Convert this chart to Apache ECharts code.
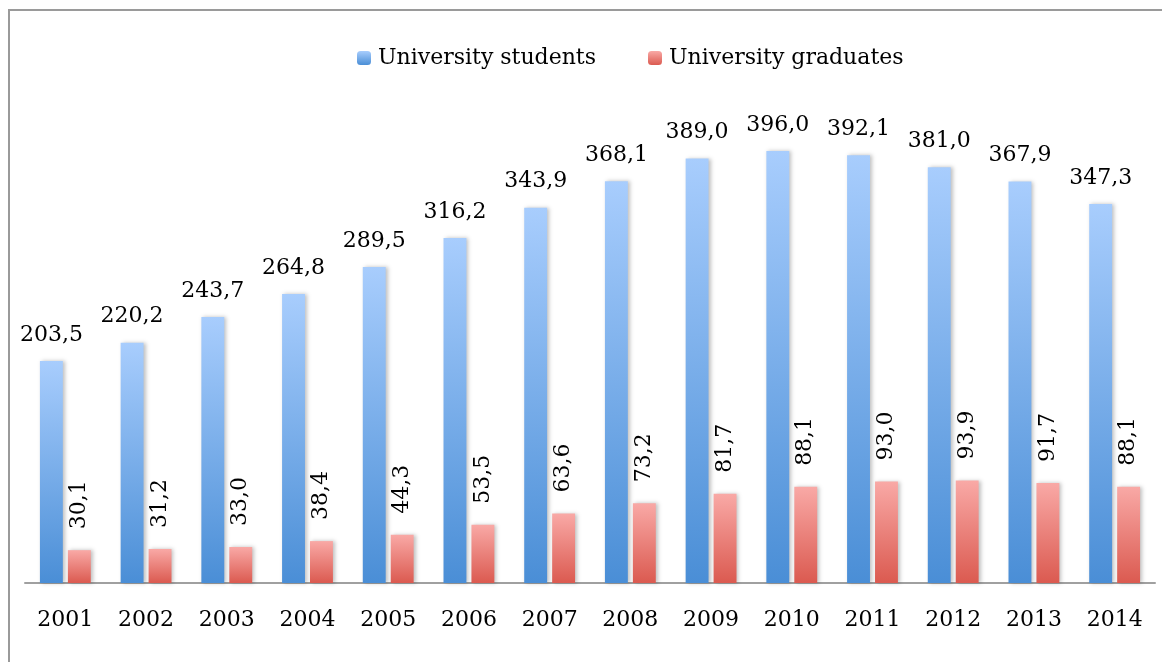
<!DOCTYPE html>
<html><head><meta charset="utf-8">
<script src="https://cdn.jsdelivr.net/npm/echarts@6/dist/echarts.min.js"></script>
<style>html,body{margin:0;padding:0;background:#fff}#c{width:1162px;height:662px}</style>
</head><body><div id="c"></div>
<script>
const years = ['2001','2002','2003','2004','2005','2006','2007','2008','2009','2010','2011','2012','2013','2014'];
const students = [203.5,220.2,243.7,264.8,289.5,316.2,343.9,368.1,389.0,396.0,392.1,381.0,367.9,347.3];
const graduates = [30.1,31.2,33.0,38.4,44.3,53.5,63.6,73.2,81.7,88.1,93.0,93.9,91.7,88.1];
const FONT = 'DejaVu Serif';
const fmt = p => p.value.toFixed(1).replace('.', ',');
const grad = (a,b) => new echarts.graphic.LinearGradient(0,0,0,1,[{offset:0,color:a},{offset:1,color:b}]);
const chart = echarts.init(document.getElementById('c'));
chart.setOption({
  animation:false,
  graphic:[{type:'rect',shape:{x:9,y:10,width:1300,height:800},style:{fill:'none',stroke:'#9a9a9a',lineWidth:2},z:-1}],
  legend:{left:352,top:42,itemWidth:14,itemHeight:14,itemGap:52,
    textStyle:{fontFamily:FONT,fontSize:22,color:'#000',padding:[0,0,0,2]},
    data:['University students','University graduates']},
  grid:{left:25,right:7,top:92,bottom:79},
  xAxis:{type:'category',data:years,
    axisLine:{lineStyle:{color:'#a0a0a0',width:2}},axisTick:{show:false},
    axisLabel:{fontFamily:FONT,fontSize:22,color:'#000',margin:26}},
  yAxis:{type:'value',min:0,max:450,show:false,splitLine:{show:false}},
  series:[
    {name:'University students',type:'bar',data:students,barGap:'22%',barCategoryGap:'37%',
     itemStyle:{color:grad('#a8cdfd','#4a8ed6'),shadowColor:'rgba(0,0,0,0.25)',shadowBlur:4,shadowOffsetX:2},
     label:{show:true,position:'top',distance:15,formatter:fmt,fontFamily:FONT,fontSize:22,color:'#000'}},
    {name:'University graduates',type:'bar',data:graduates,
     itemStyle:{color:grad('#f9a9a6','#db5a50'),shadowColor:'rgba(0,0,0,0.25)',shadowBlur:4,shadowOffsetX:2},
     label:{show:true,position:'top',distance:21,rotate:90,align:'left',verticalAlign:'middle',formatter:fmt,fontFamily:FONT,fontSize:22,color:'#000'}}
  ]
});
</script></body></html>
